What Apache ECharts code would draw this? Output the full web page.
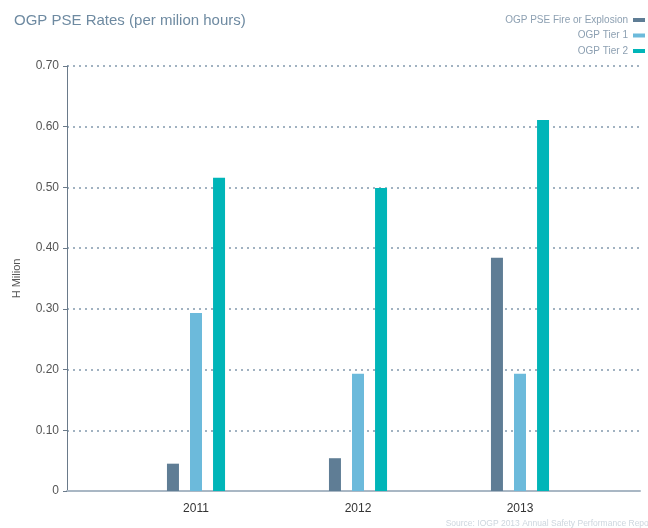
<!DOCTYPE html>
<html><head><meta charset="utf-8">
<script src="https://cdn.jsdelivr.net/npm/echarts@6/dist/echarts.min.js"></script>
<style>html,body{margin:0;padding:0;background:#fff}#c{width:648px;height:528px}</style>
</head><body><div id="c"></div>
<script>
const categories = ['2011', '2012', '2013'];
const seriesNames = ['OGP PSE Fire or Explosion', 'OGP Tier 1', 'OGP Tier 2'];
const fireExplosion = [0.045, 0.054, 0.384];
const tier1 = [0.293, 0.193, 0.193];
const tier2 = [0.516, 0.499, 0.611];
const yTicks = ['0', '0.10', '0.20', '0.30', '0.40', '0.50', '0.60', '0.70'];
const colors = ['#5f7d95', '#6cbadb', '#00b5b8'];

const font = 'Liberation Sans';
const chart = echarts.init(document.getElementById('c'));
const barCommon = { xAxisIndex: 1, yAxisIndex: 1, barWidth: 12, barGap: '92%' };
chart.setOption({
  animation: false,
  textStyle: { fontFamily: font },
  title: {
    text: 'OGP PSE Rates (per milion hours)', left: 9, top: 8,
    textStyle: { fontFamily: font, fontSize: 15, fontWeight: 'normal', color: '#6e8aa1' }
  },
  legend: {
    orient: 'vertical', right: 3, top: 15, align: 'right', padding: 0,
    itemWidth: 12, itemHeight: 4, itemGap: 5.5,
    icon: 'rect',
    textStyle: { fontFamily: font, fontSize: 10, color: '#8da0b2', padding: [0, 0, 0, 0] },
    data: seriesNames
  },
  grid: [
    { left: 67, right: 8, top: 66, bottom: 37 },
    { left: 115, right: 47, top: 66, bottom: 37 }
  ],
  xAxis: [
    { gridIndex: 0, type: 'category', data: categories,
      axisLine: { show: true, lineStyle: { color: '#a9b7c4', width: 2 } },
      axisTick: { show: false }, axisLabel: { show: false } },
    { gridIndex: 1, type: 'category', data: categories,
      axisLine: { show: false }, axisTick: { show: false },
      axisLabel: { fontFamily: font, fontSize: 12, color: '#333', margin: 12 } }
  ],
  yAxis: [
    { gridIndex: 0, type: 'value', min: 0, max: 0.7, interval: 0.1,
      name: 'H Milion', nameLocation: 'middle', nameGap: 45, nameRotate: 90,
      nameTextStyle: { fontFamily: font, fontSize: 11, color: '#555' },
      axisLine: { show: true, lineStyle: { color: '#6a7a8a', width: 1 } },
      axisTick: { show: true, length: 4, lineStyle: { color: '#6a7a8a' } },
      axisLabel: { fontFamily: font, fontSize: 12, color: '#555', margin: 8,
        formatter: (v) => yTicks[Math.round(v * 10)] },
      splitLine: { show: true, lineStyle: { type: [2, 4], color: '#8399ad', width: 1.5 } } },
    { gridIndex: 1, type: 'value', min: 0, max: 0.7, interval: 0.1, show: false,
      splitLine: { show: false } }
  ],
  series: [
    Object.assign({ type: 'bar', name: seriesNames[0], data: fireExplosion, itemStyle: { color: colors[0] } }, barCommon),
    Object.assign({ type: 'bar', name: seriesNames[1], data: tier1, itemStyle: { color: colors[1] } }, barCommon),
    Object.assign({ type: 'bar', name: seriesNames[2], data: tier2, itemStyle: { color: colors[2] } }, barCommon)
  ],
  graphic: [{
    type: 'text', right: -6, top: 519,
    style: { text: 'Source: IOGP 2013 Annual Safety Performance Report', fill: '#cdd6de',
      font: '8.5px "Liberation Sans"' }
  }]
});
</script></body></html>
